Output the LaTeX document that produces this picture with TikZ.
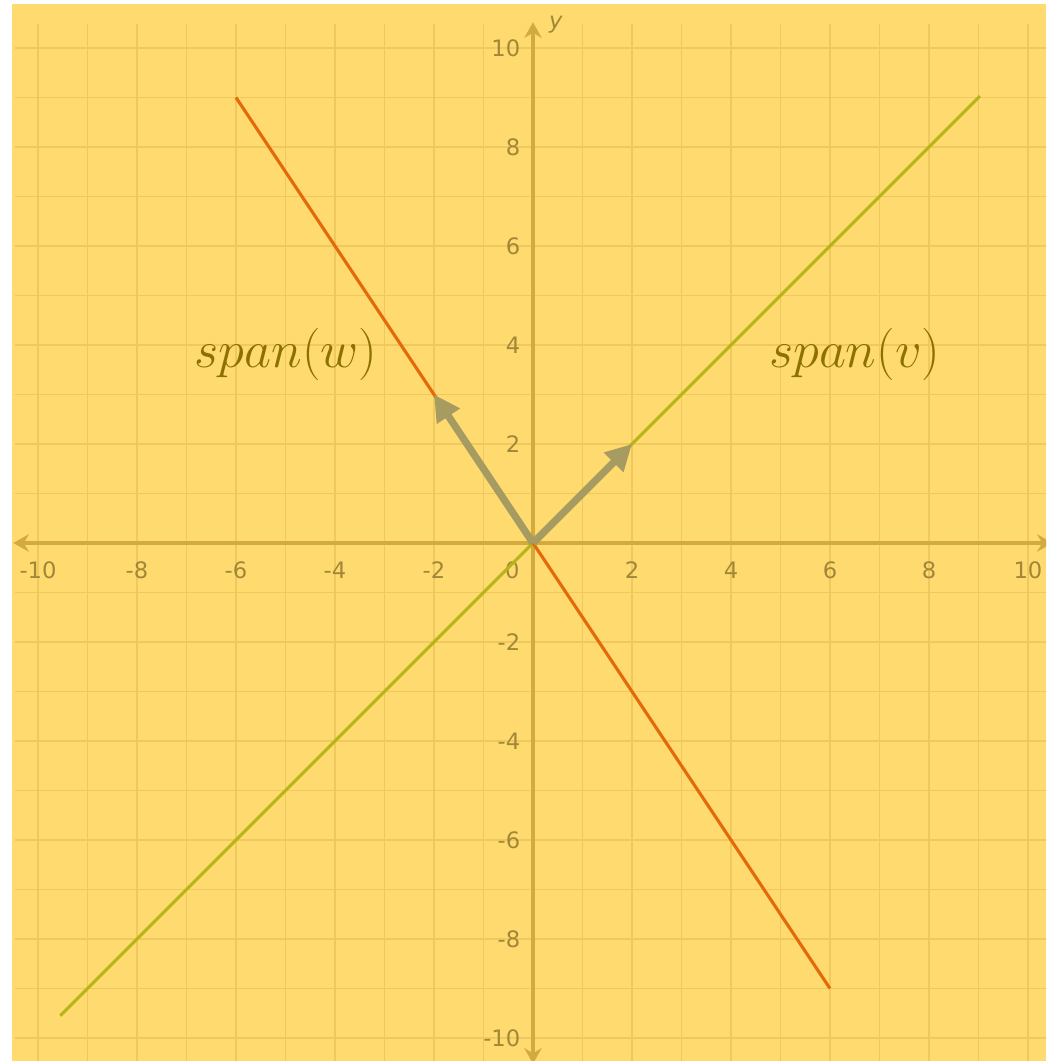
\documentclass[tikz,border=0pt]{standalone}
\usepackage{fontspec}
\setsansfont{DejaVu Sans}
\usetikzlibrary{arrows.meta}
\definecolor{bgyellow}{HTML}{FFDA6F}
\definecolor{gridcol}{HTML}{EFC85E}
\definecolor{axiscol}{HTML}{D2AA3E}
\definecolor{tickcol}{HTML}{A08838}
\definecolor{spancol}{HTML}{8C7000}
\definecolor{vlinecol}{HTML}{B6B418}
\definecolor{wlinecol}{HTML}{E36A07}
\definecolor{veccol}{HTML}{A69B60}
\tikzset{
  gridline/.style={gridcol, line width=1.1pt},
  axisline/.style={axiscol, line width=2pt, {Stealth[length=9pt,width=10pt,inset=3pt]}-{Stealth[length=9pt,width=10pt,inset=3pt]}},
  spanline/.style={line width=1.8pt},
  vecarrow/.style={veccol, line width=4.2pt, -{Triangle[length=15pt,width=15pt]}},
  ticklabel/.style={text=tickcol, font=\sffamily\fontsize{13}{15}\selectfont, inner sep=0pt},
  spanlabel/.style={text=spancol, font=\fontsize{24.88}{30}\selectfont, inner sep=0pt, scale=1.21}
}
\begin{document}
\begin{tikzpicture}
\clip (-10.768,-10.465) rectangle (10.364,10.970);
\fill[white] (-10.768,-10.465) rectangle (10.364,10.970);
\fill[bgyellow] (-10.525,-10.465) rectangle (10.364,10.889);
% grid
\foreach \i in {-10,...,10} {
  \draw[gridline] (\i,-10.6) -- (\i,10.48);
  \draw[gridline] (-10.46,\i) -- (10.6,\i);
}
% axes
\coordinate (xl) at (-10.5,0);
\coordinate (xr) at (10.5,0);
\coordinate (yb) at (0,-10.52);
\coordinate (yt) at (0,10.52);
\draw[axisline] (xl) -- (xr);
\draw[axisline] (yb) -- (yt);
\node[ticklabel, font=\sffamily\itshape\fontsize{13}{15}\selectfont] (ylab) at (0.46,10.47) {y};
% tick labels
\foreach \i in {-10,-8,-6,-4,-2,2,4,6,8,10} {
  \node[ticklabel] (xt\i) at (\i,-0.55) {\i};
  \node[ticklabel, anchor=east] (yt\i) at (-0.25,\i) {\i};
}
\node[ticklabel] (zero) at (-0.42,-0.55) {0};
% span lines
\coordinate (O) at (0,0);
\coordinate (va) at (-9.55,-9.55);
\coordinate (vb) at (9.03,9.03);
\coordinate (wa) at (-6,9);
\coordinate (wb) at (6,-9);
\draw[spanline, vlinecol] (va) -- (vb);
\draw[spanline, wlinecol] (wa) -- (wb);
% vectors
\coordinate (v) at (2,2);
\coordinate (w) at (-2,3);
\draw[vecarrow] (O) -- (v);
\draw[vecarrow] (O) -- (w);
% labels
\node[spanlabel] (spanw) at (-4.99,3.8) {$span(w)$};
\node[spanlabel] (spanv) at (6.5,3.8) {$span(v)$};
\end{tikzpicture}
\end{document}
